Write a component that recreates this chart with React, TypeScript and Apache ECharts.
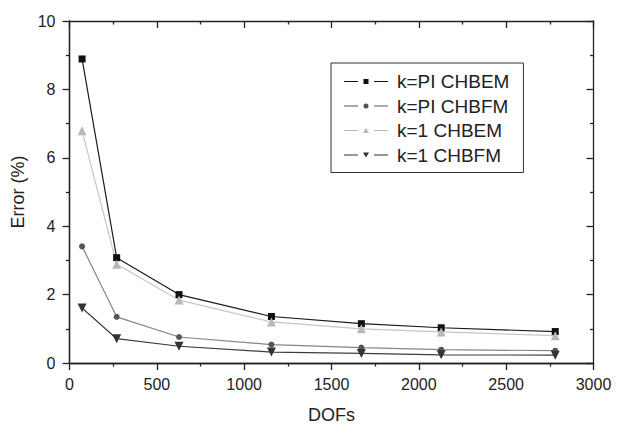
import React, { useEffect, useRef } from "react";
import * as echarts from "echarts";

const dofs = [72, 270, 627, 1156, 1671, 2128, 2781];
const piChbem = [8.89, 3.08, 2.0, 1.36, 1.15, 1.03, 0.92];
const piChbfm = [3.41, 1.35, 0.76, 0.54, 0.45, 0.39, 0.36];
const oneChbem = [6.79, 2.89, 1.84, 1.2, 1.0, 0.91, 0.8];
const oneChbfm = [1.61, 0.71, 0.49, 0.32, 0.28, 0.24, 0.23];
const seriesNames = ["k=PI CHBEM", "k=PI CHBFM", "k=1 CHBEM", "k=1 CHBFM"];
const xTicks = { min: 0, max: 3000, interval: 500 };
const yTicks = { min: 0, max: 10, interval: 2 };

const FONT = "'Liberation Sans', Arial, sans-serif";
const AX = "#222";

const LINES = "M0,2 L14,2 L14,3 L0,3 Z M30,2 L44,2 L44,3 L30,3 Z ";
const legendIcons = [
  "path://" + LINES + "M19.5,0 L24.5,0 L24.5,5 L19.5,5 Z",
  "path://" + LINES + "M22,0 A2.5,2.5 0 1,1 22,5 A2.5,2.5 0 1,1 22,0 Z",
  "path://" + LINES + "M22,0 L25,5 L19,5 Z",
  "path://" + LINES + "M19,0 L25,0 L22,5 Z",
];

export default function App() {
  const ref = useRef<HTMLDivElement>(null);
  useEffect(() => {
    const chart = echarts.init(ref.current!, null, { renderer: "svg" });
    const pair = (ys: number[]) => dofs.map((x, i) => [x, ys[i]]);
    const mk = (
      name: string,
      ys: number[],
      symbol: string,
      size: number,
      lineColor: string,
      markColor: string
    ) => ({
      name,
      type: "line",
      xAxisIndex: 0,
      yAxisIndex: 0,
      data: pair(ys),
      symbol,
      symbolSize: size,
      showAllSymbol: true,
      lineStyle: { color: lineColor, width: 1.2 },
      itemStyle: { color: markColor, borderWidth: 0 },
      emphasis: { disabled: true },
    });
    const mkAxis = (pos: string, ticks: any, tickShow: boolean, inside: boolean, extra: any) => ({
      type: "value",
      position: pos,
      ...ticks,
      axisLine: { show: true, onZero: false, lineStyle: { color: AX, width: 1.3 } },
      splitLine: { show: false },
      axisTick: { show: tickShow, inside, length: 7, lineStyle: { color: AX, width: 1.3 } },
      minorTick: { show: tickShow, splitNumber: 2, length: 3.5, lineStyle: { color: AX, width: 1.3 } },
      axisLabel: { show: false },
      ...extra,
    });
    chart.setOption({
      animation: false,
      backgroundColor: "#fff",
      grid: {
        left: 69.5,
        right: 27.5,
        top: 21,
        bottom: 62.5,
        containLabel: false,
      },
      legend: {
        orient: "vertical",
        left: 331,
        top: 63,
        padding: [9, 14, 8, 13],
        itemWidth: 44,
        itemHeight: 5,
        itemGap: 5.5,
        borderColor: "#333",
        borderWidth: 1,
        data: seriesNames.map((n, i) => ({ name: n, icon: legendIcons[i] })),
        textStyle: { fontFamily: FONT, fontSize: 19, color: AX, padding: [0, 0, 0, 4] },
      },
      xAxis: [
        mkAxis("bottom", xTicks, false, false, {
          name: "DOFs",
          nameLocation: "middle",
          nameGap: 43,
          nameTextStyle: { fontFamily: FONT, fontSize: 18, color: AX },
          axisLabel: {
            show: true,
            fontFamily: FONT,
            fontSize: 16,
            color: AX,
            margin: 13,
            formatter: (v: number) => String(v),
          },
        }),
        mkAxis("top", xTicks, true, true, {}),
        mkAxis("bottom", xTicks, true, false, {}),
      ],
      yAxis: [
        mkAxis("left", yTicks, false, false, {
          name: "Error (%)",
          nameLocation: "middle",
          nameGap: 37,
          nameTextStyle: { fontFamily: FONT, fontSize: 18, color: AX },
          axisLabel: {
            show: true,
            fontFamily: FONT,
            fontSize: 16,
            color: AX,
            margin: 14,
            formatter: (v: number) => String(v),
          },
        }),
        mkAxis("right", yTicks, true, true, {}),
        mkAxis("left", yTicks, true, false, {}),
      ],
      series: [
        mk(seriesNames[0], piChbem, "rect", 7, "#1a1a1a", "#111"),
        mk(seriesNames[1], piChbfm, "circle", 6, "#858585", "#555"),
        mk(seriesNames[2], oneChbem, "triangle", 9, "#c6c6c6", "#b8b8b8"),
        mk(seriesNames[3], oneChbfm, "path://M0,0 L10,0 L5,9 Z", 9, "#3c3c3c", "#333"),
      ],
    });
    return () => chart.dispose();
  }, []);
  return (
    <div
      ref={ref}
      style={{ position: "absolute", left: 0, top: 0, width: 621, height: 429 }}
    />
  );
}
